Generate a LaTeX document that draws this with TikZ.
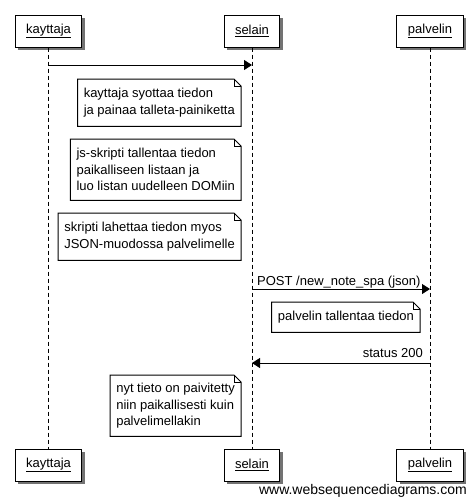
\documentclass[tikz,border=0pt]{standalone}
\usepackage{fontspec}
\setmainfont{Liberation Sans}
\usetikzlibrary{arrows.meta,shadows}
\newcommand\foldnote[1]{%
  \draw[noteline] (#1.south west) -- (#1.north west) -- ([xshift=-7pt]#1.north east)
    -- ([yshift=-7pt]#1.north east) -- (#1.south east) -- cycle;
  \draw[noteline] ([xshift=-7pt]#1.north east) |- ([yshift=-7pt]#1.north east);}
\begin{document}
\begin{tikzpicture}[x=1pt,y=-1pt,
  txt/.style={font=\fontsize{13}{16.5}\selectfont},
  actor/.style={txt, draw, line width=1pt, fill=white, minimum height=32pt,
    inner xsep=11pt, inner ysep=0pt,
    drop shadow={shadow xshift=3pt, shadow yshift=-3pt, fill=black!55, opacity=1}},
  life/.style={line width=1pt, dash pattern=on 4pt off 3pt},
  msg/.style={line width=1pt, -{Triangle[length=8pt,width=10pt]}},
  notebox/.style={txt, fill=white, inner xsep=6pt, inner ysep=0pt, align=left},
  noteline/.style={line width=1pt, line join=miter},
  lbl/.style={txt, inner sep=0pt}]
\useasboundingbox (0,0) rectangle (476,504);
\fill[white] (0,0) rectangle (476,504);

\node[actor] (kt) at (48.5,31) {\underline{kayttaja}};
\node[actor] (st) at (252,31) {\underline{selain}};
\node[actor] (pt) at (430,31) {\underline{palvelin}};
\node[actor] (kb) at (48.5,465) {\underline{kayttaja}};
\node[actor] (sb) at (252,465) {\underline{selain}};
\node[actor] (pb) at (430,465) {\underline{palvelin}};

\draw[life] (kt) -- (kb);
\draw[life] (st) -- (sb);
\draw[life] (pt) -- (pb);

% message 1
\coordinate (m1a) at (48.5,65);
\coordinate (m1b) at (252,65);
\draw[msg] (m1a) -- (m1b);

% notes
\node[notebox, anchor=north east, minimum height=47pt] (n1) at (241,79)
  {kayttaja syottaa tiedon\\ja painaa talleta-painiketta};
\foldnote{n1}
\node[notebox, anchor=north east, minimum height=61pt] (n2) at (241,139)
  {js-skripti tallentaa tiedon\\paikalliseen listaan ja\\luo listan uudelleen DOMiin};
\foldnote{n2}
\node[notebox, anchor=north east, minimum height=47pt] (n3) at (241,213)
  {skripti lahettaa tiedon myos\\JSON-muodossa palvelimelle};
\foldnote{n3}

% POST
\coordinate (m2a) at (252,289);
\coordinate (m2b) at (430,289);
\draw[msg] (m2a) -- (m2b);
\node[lbl, anchor=base west] (l2) at (257,285) {POST /new\_note\_spa (json)};

\node[notebox, anchor=north east, minimum height=30pt] (n4) at (420,302)
  {palvelin tallentaa tiedon};
\foldnote{n4}

% status 200
\coordinate (m3a) at (430,363);
\coordinate (m3b) at (252,363);
\draw[msg] (m3a) -- (m3b);
\node[lbl, anchor=base east] (l3) at (423,357) {status 200};

\node[notebox, anchor=north east, minimum height=61pt] (n5) at (241,375)
  {nyt tieto on paivitetty\\niin paikallisesti kuin\\palvelimellakin};
\foldnote{n5}

\node[inner sep=0pt, anchor=base east, font=\fontsize{14}{16}\selectfont] (wm) at (467,494)
  {www.websequencediagrams.com};
\end{tikzpicture}
\end{document}
